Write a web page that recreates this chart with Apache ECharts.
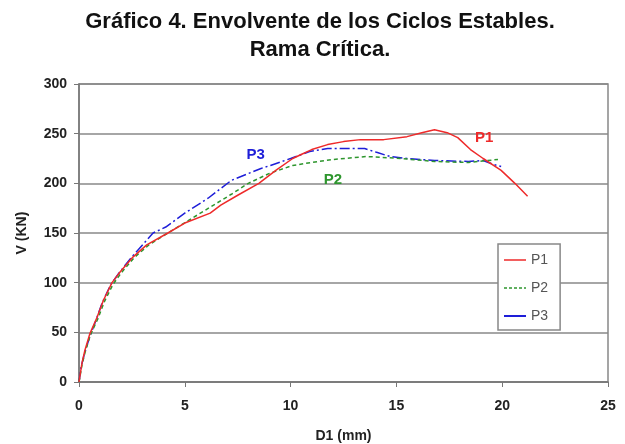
<!DOCTYPE html>
<html>
<head>
<meta charset="utf-8">
<script src="https://cdn.jsdelivr.net/npm/echarts@6/dist/echarts.min.js"></script>
<style>
html,body{margin:0;padding:0;background:#fff;}
#c{width:625px;height:444px;}
</style>
</head>
<body>
<div id="c"></div>
<script>
// Data
var xTicks = [0, 5, 10, 15, 20, 25];
var yTicks = [0, 50, 100, 150, 200, 250, 300];

var p1X = [0, 0.14, 0.28, 0.52, 0.85, 1.15, 1.56, 1.95, 2.56, 3.2, 4.2, 5.0, 6.2, 6.7, 7.5, 8.5, 9.3, 10.1, 10.5, 11.0, 11.75, 12.5, 13.3, 14.4, 15.5, 16.2, 16.8, 17.4, 17.9, 18.5, 19.1, 19.95, 20.6, 21.2];
var p1Y = [0, 19, 32, 49, 65, 82, 100, 111, 126, 138, 150, 160, 170, 178, 188, 200, 213, 225, 229, 234, 239, 242, 244, 244, 247, 251, 254, 251, 246, 234, 225, 213, 200, 187];

var p2X = [0, 0.15, 0.3, 0.55, 0.9, 1.2, 1.6, 2.0, 2.6, 3.3, 4.2, 5.2, 6.2, 7.2, 8.0, 9.0, 10.1, 11.0, 12.0, 13.6, 15.2, 16.8, 18.4, 19.8];
var p2Y = [0, 18, 31, 48, 64, 81, 98, 110, 125, 138, 150, 163, 176, 189, 200, 210, 218, 221, 224, 227, 225, 222, 221, 224];

var p3X = [0, 0.1, 0.25, 0.5, 0.8, 1.1, 1.5, 1.9, 2.5, 3.0, 3.5, 4.1, 5.0, 6.1, 7.2, 8.6, 9.05, 10.0, 10.9, 11.75, 13.5, 14.1, 14.7, 15.5, 16.8, 18.4, 19.1, 19.6, 19.95];
var p3Y = [0, 15, 28, 45, 62, 80, 98, 110, 126, 138, 150, 156, 170, 185, 203, 215, 218, 225, 232, 235, 235, 231, 227, 225, 223, 222, 223, 219, 217];

var seriesNames = ['P1', 'P2', 'P3'];
var labelPos = [[19.15, 246], [12.0, 203], [8.35, 229]];

function pairs(xs, ys) { return xs.map(function (x, i) { return [x, ys[i]]; }); }

var colors = ['#ee2a2a', '#2e962e', '#1e1ed8'];
var dash = ['solid', [4, 3], [10, 3, 2, 3]];
var xsAll = [p1X, p2X, p3X], ysAll = [p1Y, p2Y, p3Y];

var chart = echarts.init(document.getElementById('c'), null, {renderer: 'canvas'});
var FONT = '"Liberation Sans", Arial, sans-serif';

var series = seriesNames.map(function (n, i) {
  return {
    name: n,
    type: 'line',
    symbol: 'none',
    smooth: false,
    data: pairs(xsAll[i], ysAll[i]),
    lineStyle: {color: colors[i], width: 1.5, type: dash[i]},
    itemStyle: {color: colors[i]},
    z: 3 - i,
    markPoint: {
      symbol: 'circle', symbolSize: 0,
      data: [{coord: labelPos[i], value: n}],
      label: {show: true, formatter: n, color: colors[i], fontSize: 15, fontWeight: 'bold', fontFamily: FONT, position: 'inside'}
    }
  };
});

chart.setOption({
  backgroundColor: '#fff',
  animation: false,
  title: {
    text: 'Gráfico 4. Envolvente de los Ciclos Estables.\nRama Crítica.',
    left: 315, top: 3, textAlign: 'center',
    textStyle: {fontSize: 22, fontWeight: 'bold', fontFamily: FONT, color: '#111', lineHeight: 28, align: 'center'}
  },
  grid: {left: 79, right: 17, top: 84, bottom: 62, outerBoundsMode: 'none', containLabel: false, show: true, borderColor: '#888', borderWidth: 1.5, backgroundColor: '#fff'},
  legend: {
    data: [
      {name: 'P1', lineStyle: {type: 'solid', width: 1.5}},
      {name: 'P2', lineStyle: {type: [3, 2], width: 1.5}},
      {name: 'P3', lineStyle: {type: 'solid', width: 2}}
    ],
    itemStyle: {opacity: 0},
    orient: 'vertical', left: 498, top: 244,
    itemWidth: 22, itemHeight: 14, itemGap: 14,
    padding: [9, 12, 7, 5],
    borderColor: '#888', borderWidth: 1.5, backgroundColor: '#fff',
    textStyle: {fontSize: 14, color: '#555', fontFamily: FONT}
  },
  xAxis: {
    type: 'value', min: xTicks[0], max: xTicks[xTicks.length - 1], interval: 5,
    name: 'D1 (mm)', nameLocation: 'middle', nameGap: 47,
    nameTextStyle: {fontSize: 14, fontWeight: 'bold', fontFamily: FONT, color: '#222'},
    axisLine: {lineStyle: {color: '#777', width: 1.5}},
    axisTick: {show: true, inside: false, length: 5, lineStyle: {color: '#777'}},
    axisLabel: {fontSize: 14, fontWeight: 'bold', fontFamily: FONT, color: '#222', margin: 17},
    splitLine: {show: false}
  },
  yAxis: {
    type: 'value', min: yTicks[0], max: yTicks[yTicks.length - 1], interval: 50,
    name: 'V (KN)', nameLocation: 'middle', nameGap: 50, nameRotate: 90,
    nameTextStyle: {fontSize: 14, fontWeight: 'bold', fontFamily: FONT, color: '#222'},
    axisLine: {show: true, lineStyle: {color: '#777', width: 1.5}},
    axisTick: {show: true, inside: false, length: 5, lineStyle: {color: '#777'}},
    axisLabel: {fontSize: 14, fontWeight: 'bold', fontFamily: FONT, color: '#222', margin: 12},
    splitLine: {show: true, lineStyle: {color: '#888', width: 1.5}}
  },
  series: series
});
</script>
</body>
</html>
